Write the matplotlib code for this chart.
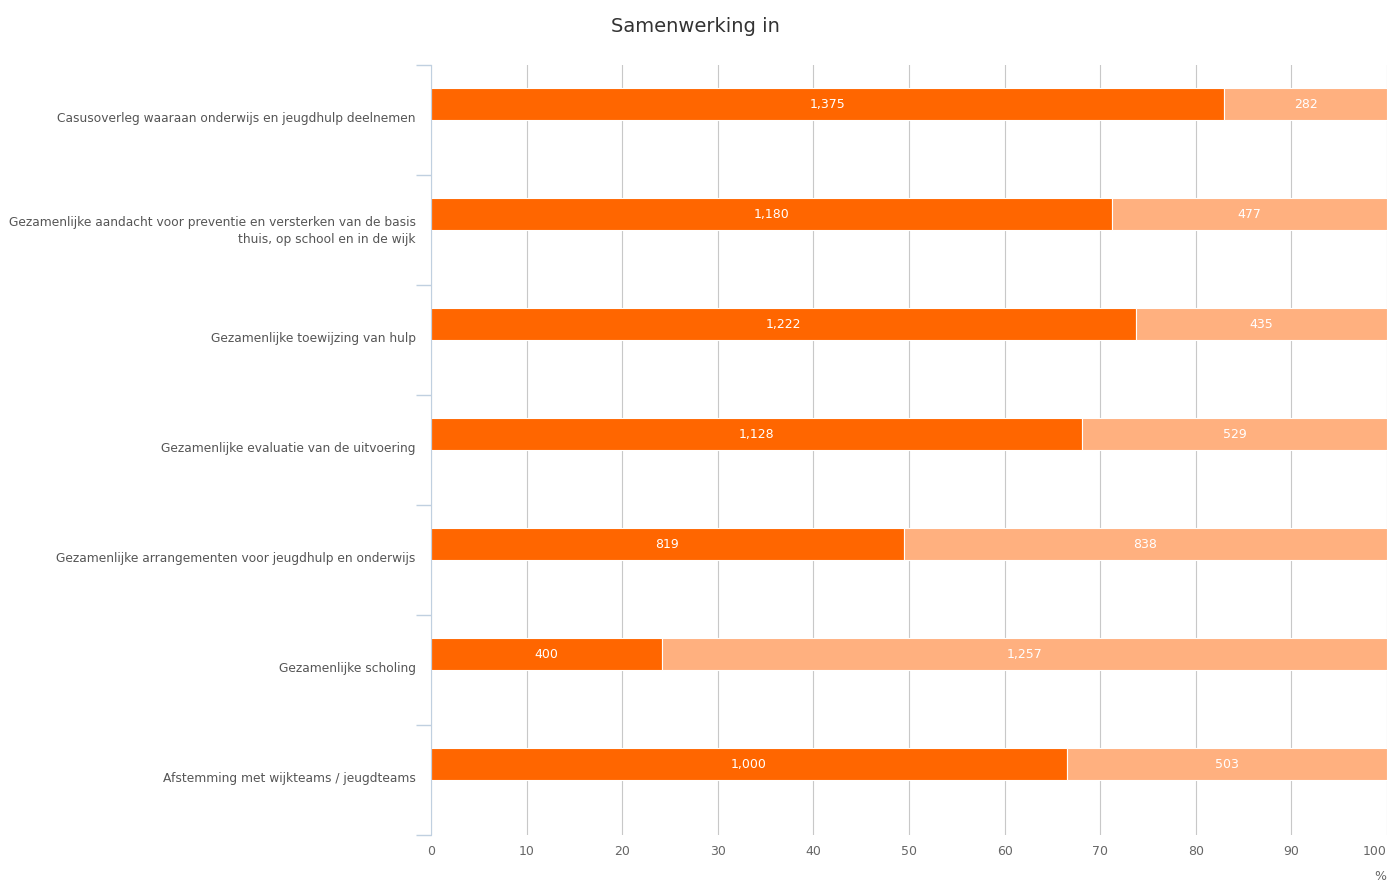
import numpy as np
import matplotlib.pyplot as plt
import matplotlib.transforms as mtransforms

categories = [
    "Casusoverleg waaraan onderwijs en jeugdhulp deelnemen",
    "Gezamenlijke aandacht voor preventie en versterken van de basis\nthuis, op school en in de wijk",
    "Gezamenlijke toewijzing van hulp",
    "Gezamenlijke evaluatie van de uitvoering",
    "Gezamenlijke arrangementen voor jeugdhulp en onderwijs",
    "Gezamenlijke scholing",
    "Afstemming met wijkteams / jeugdteams",
]
ja = [1375, 1180, 1222, 1128, 819, 400, 1000]
nee = [282, 477, 435, 529, 838, 1257, 503]

ja = np.array(ja, dtype=float)
nee = np.array(nee, dtype=float)
totaal = ja + nee
ja_pct = ja / totaal * 100
nee_pct = nee / totaal * 100

fig = plt.figure(figsize=(13.89, 8.82), dpi=100)
ax = fig.add_axes([431 / 1389, 1 - 835 / 882, 956 / 1389, 770 / 882])

y = np.arange(len(categories))
y_bar = y - 0.145
h = 0.29

ax.barh(y_bar, ja_pct, height=h, color='#FF6600', edgecolor='white', linewidth=0.8, zorder=3)
ax.barh(y_bar, nee_pct, left=ja_pct, height=h, color='#FFB07F', edgecolor='white', linewidth=0.8, zorder=3)

for i in range(len(categories)):
    ax.text(ja_pct[i] / 2, y_bar[i], "{:,}".format(int(ja[i])), color='white',
            ha='center', va='center', fontsize=9, zorder=4)
    ax.text(ja_pct[i] + nee_pct[i] / 2, y_bar[i], "{:,}".format(int(nee[i])), color='white',
            ha='center', va='center', fontsize=9, zorder=4)

ax.set_xlim(0, 100)
ax.set_ylim(len(categories) - 0.5, -0.5)

ax.set_xticks(np.arange(0, 101, 10))
ax.tick_params(axis='x', length=0, labelsize=9, labelcolor='#666666', pad=7)
ax.get_xticklabels()[-1].set_ha('right')
ax.grid(axis='x', color='#C8C8C8', linewidth=0.8, zorder=0)

ax.set_yticks(y)
ax.set_yticklabels(categories, fontsize=8.8, color='#555555', linespacing=1.45)
ax.tick_params(axis='y', which='major', length=0, pad=11)
# labels sit a little above the band centre
shift = mtransforms.ScaledTranslation(0, 3 / 100, fig.dpi_scale_trans)
for lbl in ax.get_yticklabels():
    lbl.set_transform(lbl.get_transform() + shift)
ax.set_yticks(np.arange(-0.5, len(categories), 1), minor=True)
ax.tick_params(axis='y', which='minor', length=11, color='#C0D0E0', width=1)

for s in ['top', 'right', 'bottom']:
    ax.spines[s].set_visible(False)
ax.spines['left'].set_color('#C0D0E0')
ax.spines['left'].set_zorder(5)

fig.text(695 / 1389, 1 - 26 / 882, "Samenwerking in", ha='center', va='center',
         fontsize=14, color='#333333')
fig.text(1380 / 1389, 1 - 877 / 882, "%", ha='center', va='center',
         fontsize=9, color='#666666')

fig.savefig('out.png', dpi=100)
